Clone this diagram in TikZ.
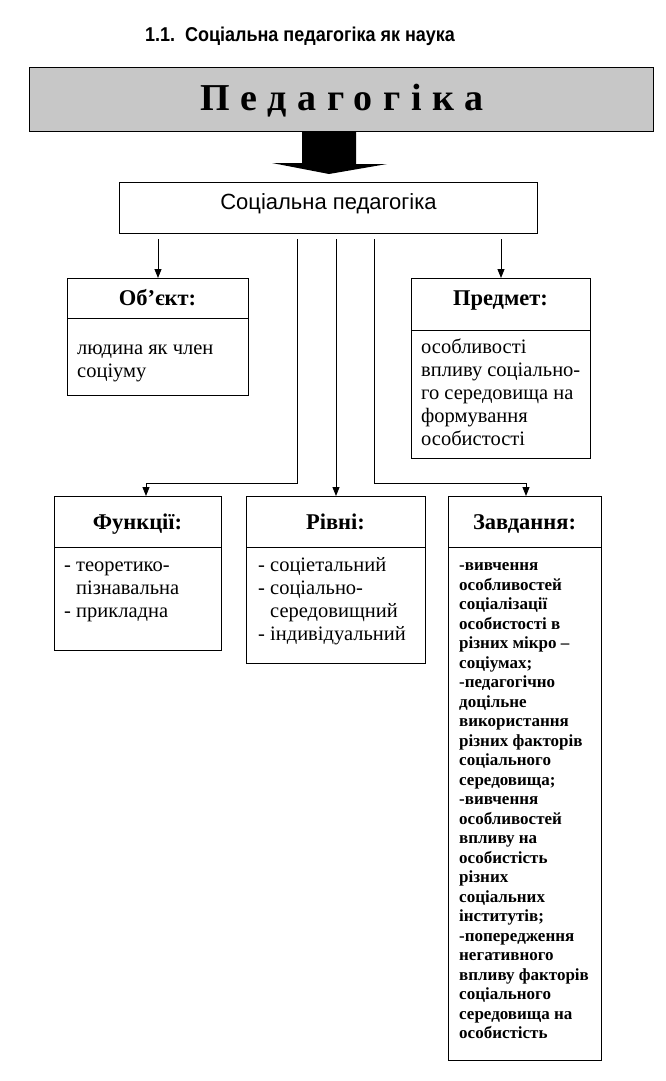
\documentclass[tikz,border=0pt]{standalone}
\usepackage{fontspec}
\setmainfont{Liberation Serif}
\newfontfamily\sansfam{Liberation Sans}
\newfontfamily\narrowfam[FakeStretch=0.9]{Liberation Sans}
\usetikzlibrary{arrows.meta,calc}

\tikzset{
  boxframe/.style={draw,line width=1pt,inner sep=0pt,anchor=north west},
  headtxt/.style={anchor=base,inner sep=0pt,font=\bfseries\fontsize{22.5}{24}\selectfont},
  bodytxt/.style={anchor=north west,inner sep=0pt,align=left,font=\fontsize{20.5}{23}\selectfont},
  tasktxt/.style={anchor=north west,inner sep=0pt,align=left,font=\bfseries\fontsize{17}{19.5}\selectfont},
  arr/.style={line width=0.9pt,-{Triangle[length=9pt,width=7pt]}},
  rule/.style={line width=1pt}
}

\begin{document}
\begin{tikzpicture}[x=1pt,y=-1pt]
\useasboundingbox (0,0) rectangle (666,1081);
%\draw[help lines,step=50] (0,0) grid (666,1081);

% title
\node[anchor=base,inner sep=0pt,font=\narrowfam\bfseries\fontsize{20}{24}\selectfont] (title) at (300,41.5) {1.1.\ \ Соціальна педагогіка як наука};

% top box
\node[boxframe,fill=black!22,minimum width=624pt,minimum height=64pt] (ped) at (29,67) {};
\node[anchor=base,inner sep=0pt,font=\bfseries\fontsize{38}{40}\selectfont\addfontfeature{LetterSpace=28}] (pedtxt) at (342,110) {Педагогіка};

% block arrow
\coordinate (bigtip) at (329,174);
\fill[black] ($(ped.south -| bigtip)+(-27,0)$) -- ++(54,0) -- ++(0,32) -- ++(31,0) -- (bigtip) -- ++(-57,-11) -- ++(30,0) -- cycle;

\node[boxframe,minimum width=418pt,minimum height=51pt] (soc) at (119,182) {};
\node[anchor=base,inner sep=0pt,font=\sansfam\fontsize{22}{24}\selectfont] (soctxt) at (328.5,209) {Соціальна педагогіка};

% object
\node[boxframe,minimum width=181pt,minimum height=117pt] (obj) at (67,278) {};
\node[headtxt] (objhd) at (157.5,305) {Об’єкт:};
\draw[rule] (obj.west |- 0,318) -- (obj.east |- 0,318);
\node[bodytxt] (objtxt) at (77,338) {\strut людина як член\\соціуму};

% subject
\node[boxframe,minimum width=179pt,minimum height=180pt] (subj) at (411,278) {};
\node[headtxt] (subjhd) at (500.5,305) {Предмет:};
\draw[rule] (subj.west |- 0,330) -- (subj.east |- 0,330);
\node[bodytxt] (subjtxt) at (421,337) {\strut особливості\\впливу соціально-\\го середовища на\\формування\\особистості};

% functions
\node[boxframe,minimum width=167pt,minimum height=154pt] (fun) at (54,496) {};
\node[headtxt] (funhd) at (137.5,529) {Функції:};
\draw[rule] (fun.west |- 0,547) -- (fun.east |- 0,547);
\node[bodytxt] (funtxt) at (64,555) {\strut- теоретико-\\\phantom{- }пізнавальна\\- прикладна};

% levels
\node[boxframe,minimum width=179pt,minimum height=167pt] (lev) at (246,496) {};
\node[headtxt] (levhd) at (335.5,529) {Рівні:};
\draw[rule] (lev.west |- 0,547) -- (lev.east |- 0,547);
\node[bodytxt] (levtxt) at (258,555) {\strut- соціетальний\\- соціально-\\\phantom{- }середовищний\\- індивідуальний};

% tasks
\node[boxframe,minimum width=153pt,minimum height=564pt] (task) at (448,496) {};
\node[headtxt] (taskhd) at (524.5,529) {Завдання:};
\draw[rule] (task.west |- 0,547) -- (task.east |- 0,547);
\node[tasktxt] (tasktxt) at (459,557) {\strut-вивчення\\особливостей\\соціалізації\\особистості в\\різних мікро –\\соціумах;\\-педагогічно\\доцільне\\використання\\різних факторів\\соціального\\середовища;\\-вивчення\\особливостей\\впливу на\\особистість\\різних\\соціальних\\інститутів;\\-попередження\\негативного\\впливу факторів\\соціального\\середовища на\\особистість};

% connectors
\coordinate (forkl) at (297,239);
\coordinate (forkr) at (374,239);
\coordinate (bendl) at (146,483);
\coordinate (bendr) at (526,483);
\draw[arr] (obj.north |- forkl) -- (obj.north);
\draw[arr] (subj.north |- forkl) -- (subj.north);
\draw[arr] (forkl) |- (bendl) -- (fun.north -| bendl);
\draw[arr] (lev.north |- forkl) -- (lev.north);
\draw[arr] (forkr) |- (bendr) -- (task.north -| bendr);
\end{tikzpicture}
\end{document}
